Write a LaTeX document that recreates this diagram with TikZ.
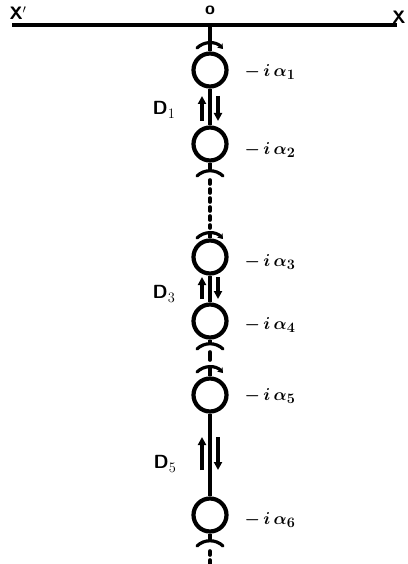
\documentclass[tikz,border=0pt]{standalone}
\usetikzlibrary{arrows.meta,calc}
\begin{document}
\begin{tikzpicture}[x=1pt,y=-1pt,
  ring/.style={circle, draw, line width=4.2pt, minimum size=33pt, inner sep=0pt},
  axisline/.style={line width=3.6pt},
  dashline/.style={line width=3.6pt, dash pattern=on 4pt off 5pt, line cap=round},
  alabel/.style={anchor=west, font=\boldmath\fontsize{19}{21}\selectfont},
  dlabel/.style={font=\sffamily\bfseries\fontsize{19}{21}\selectfont},
  xlabel/.style={font=\sffamily\bfseries\fontsize{18}{20}\selectfont},
  flow/.style={line width=3.2pt, -{Triangle[length=8pt,width=8pt]}},
  spin/.pic={\draw[line width=3.2pt, line cap=round] (-13,4) .. controls (-6,-3) and (6,-3) .. (13,4);},
  spintip/.pic={\draw[line width=3.2pt, line cap=round, -{Stealth[length=5pt,width=7pt]}] (-13,4) .. controls (-6,-3) and (6,-3) .. (13,5);}
]
\useasboundingbox (0,0) rectangle (407,564);
% axis X'X
\coordinate (L) at (12,25);
\coordinate (R) at (397,25);
\coordinate (O) at (210,25);
\draw[axisline] (L) -- (R);
\node[xlabel] (xp) at (18,13) {X$^{\prime}$};
\node[xlabel] (xr) at (399,17) {X};
\node[xlabel] (o) at (210,10) {o};
% rings
\node[ring] (c1) at (210,70) {};
\node[ring] (c2) at (210,144) {};
\node[ring] (c3) at (210,257) {};
\node[ring] (c4) at (210,321) {};
\node[ring] (c5) at (210,395) {};
\node[ring] (c6) at (210,515) {};
% labels
\node[alabel] (l1) at (241,72) {$-\,i\,\alpha_1$};
\node[alabel] (l2) at (241,150) {$-\,i\,\alpha_2$};
\node[alabel] (l3) at (241,262) {$-\,i\,\alpha_3$};
\node[alabel] (l4) at (241,325) {$-\,i\,\alpha_4$};
\node[alabel] (l5) at (241,396) {$-\,i\,\alpha_5$};
\node[alabel] (l6) at (241,520) {$-\,i\,\alpha_6$};
\node[dlabel] (d1) at (164,110) {D$_{\scriptstyle 1}$};
\node[dlabel] (d3) at (164,294) {D$_{\scriptstyle 3}$};
\node[dlabel] (d5) at (165,464) {D$_{\scriptstyle 5}$};
% connections
\draw[axisline] (O) -- (c1.north);
\pic at (210,44) {spintip};
\draw[axisline] (c1.south) -- (c2.north);
\coordinate (a2) at (210,172);
\coordinate (a3) at (210,234);
\draw[axisline] (c2.south) -- (a2);
\draw[dashline] ($(a2)+(0,8)$) -- ($(a3)+(0,-6)$);
\draw[axisline] (a3) -- (c3.north);
\pic at (a2) {spin};
\pic at (a3) {spintip};
\draw[axisline] (c3.south) -- (c4.north);
\coordinate (a4) at (210,345);
\coordinate (a5) at (210,368);
\draw[axisline] (c4.south) -- (a4);
\draw[axisline, line cap=round] (210,352) -- (210,360);
\draw[axisline] (a5) -- (c5.north);
\pic at (a4) {spin};
\pic at (a5) {spintip};
\draw[axisline] (c5.south) -- (c6.north);
\coordinate (a6) at (210,542);
\coordinate (bot) at (210,568);
\draw[axisline] (c6.south) -- (a6);
\pic at (a6) {spin};
\draw[dashline] (210,551) -- (bot);
% flow arrows
\coordinate (u1a) at (202,121); \coordinate (u1b) at (202,96);
\coordinate (w1a) at (218,96); \coordinate (w1b) at (218,121);
\draw[flow] (u1a) -- (u1b);
\draw[flow] (w1a) -- (w1b);
\coordinate (u3a) at (202,299); \coordinate (u3b) at (202,277);
\coordinate (w3a) at (218,277); \coordinate (w3b) at (218,299);
\draw[flow] (u3a) -- (u3b);
\draw[flow] (w3a) -- (w3b);
\coordinate (u5a) at (202,470); \coordinate (u5b) at (202,437);
\coordinate (w5a) at (218,437); \coordinate (w5b) at (218,470);
\draw[flow] (u5a) -- (u5b);
\draw[flow] (w5a) -- (w5b);
\end{tikzpicture}
\end{document}
